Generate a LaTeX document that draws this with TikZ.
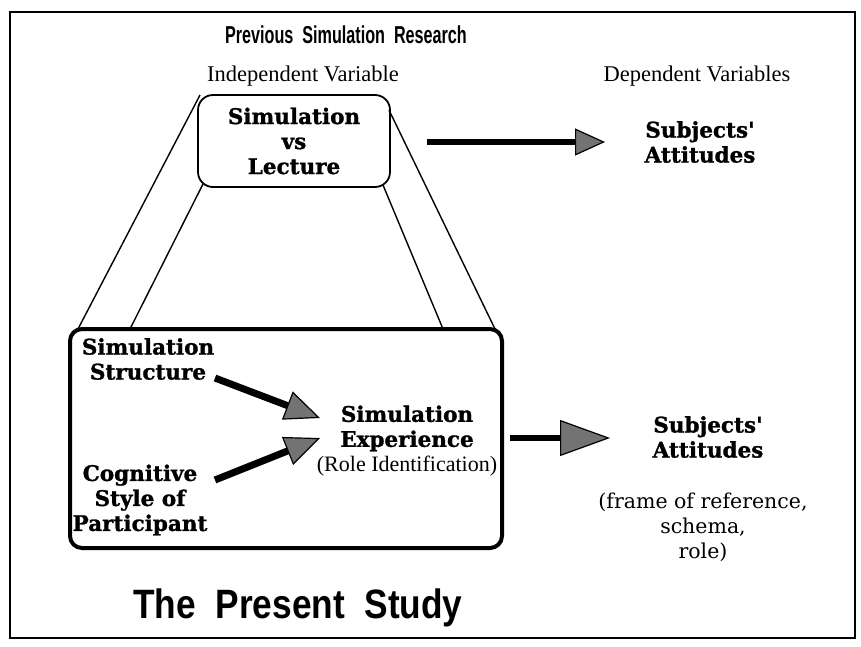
\documentclass[tikz,border=0pt]{standalone}
\usepackage{fontspec}
\usepackage{graphicx}
\setmainfont{Liberation Serif}
\newfontfamily\bookfont{DejaVu Serif}[BoldFeatures={FakeBold=1.2}]
\newfontfamily\headfont{Liberation Sans}
\usetikzlibrary{arrows.meta}
\begin{document}
\begin{tikzpicture}[x=1pt,y=-1pt,
  heading/.style={inner sep=0pt, font=\headfont\bfseries\fontsize{24.5}{28}\selectfont},
  bigheading/.style={inner sep=0pt, font=\headfont\bfseries\fontsize{41}{46}\selectfont},
  varlabel/.style={inner sep=0pt, font=\rmfamily\fontsize{22.5}{26}\selectfont},
  boldtext/.style={inner sep=0pt, align=center, font=\bookfont\bfseries\fontsize{21.5}{25}\selectfont},
  notetext/.style={inner sep=0pt, align=center, font=\bookfont\fontsize{20.5}{25}\selectfont},
  ivbox/.style={boldtext, draw, line width=1.8pt, rounded corners=15pt,
    minimum width=192pt, minimum height=92pt},
  studybox/.style={draw, line width=4pt, rounded corners=12pt,
    minimum width=432pt, minimum height=219pt},
  link/.style={line width=1.4pt},
  toparrow/.style={line width=6pt,
    -{Triangle[length=30pt,width=27pt,line width=1.2pt,fill=black!55]}},
  inarrow/.style={line width=7pt,
    -{Triangle[length=35pt,width=30pt,line width=1.2pt,fill=black!55]}},
  outarrow/.style={line width=6pt,
    -{Triangle[length=50pt,width=36pt,line width=1.2pt,fill=black!55]}}
]
\useasboundingbox (0,0) rectangle (861,646);

% outer frame
\draw[line width=1.5pt] (10,12) rectangle (855,638);

% headings
\node[heading] (prev) at (346,35) {\scalebox{0.66}[1]{Previous\ \ Simulation\ \ Research}};
\node[bigheading] (present) at (298,608) {\scalebox{0.86}[1]{The\ \ Present\ \ Study}};

% column labels
\node[varlabel] (indep) at (303,76) {Independent Variable};
\node[varlabel] (dep) at (697,76) {Dependent Variables};

% earlier research: one independent variable
\node[ivbox] (simbox) at (294,141) {Simulation\\vs\\Lecture};
\node[boldtext] (subj1) at (700,142) {Subjects\textquotesingle\\Attitudes};

% the present study
\node[studybox] (study) at (286,438.5) {};
\node[boldtext] (struct) at (148,359) {Simulation\\Structure};
\node[boldtext] (cog) at (140,500) {Cognitive\\Style of\\Participant};
\node[boldtext] (exper) at (407,441) {Simulation\\Experience\\{\rmfamily\mdseries\fontsize{22}{25}\selectfont (Role Identification)}};
\node[boldtext] (subj2) at (708,437) {Subjects\textquotesingle\\Attitudes};
\node[notetext] (frameref) at (703,527) {(frame of reference,\\schema,\\role)};

% expansion lines between the two boxes
\coordinate (olt) at (200,95);
\coordinate (olb) at (78,329);
\coordinate (ilt) at (203,184);
\coordinate (ilb) at (130,329);
\coordinate (irt) at (383,185);
\coordinate (irb) at (443,329);
\coordinate (ort) at (389,110);
\coordinate (orb) at (495,329);
\draw[link] (olt) -- (olb);
\draw[link] (ilt) -- (ilb);
\draw[link] (irt) -- (irb);
\draw[link] (ort) -- (orb);

% arrows
\coordinate (a1s) at (427,142);
\coordinate (a1e) at (605,142);
\draw[toparrow] (a1s) -- (a1e);

\coordinate (a2s) at (215,378);
\coordinate (a2e) at (320,418);
\draw[inarrow] (a2s) -- (a2e);

\coordinate (a3s) at (215,480);
\coordinate (a3e) at (320,438);
\draw[inarrow] (a3s) -- (a3e);

\coordinate (a4s) at (510,438);
\coordinate (a4e) at (610,438);
\draw[outarrow] (a4s) -- (a4e);
\end{tikzpicture}
\end{document}
